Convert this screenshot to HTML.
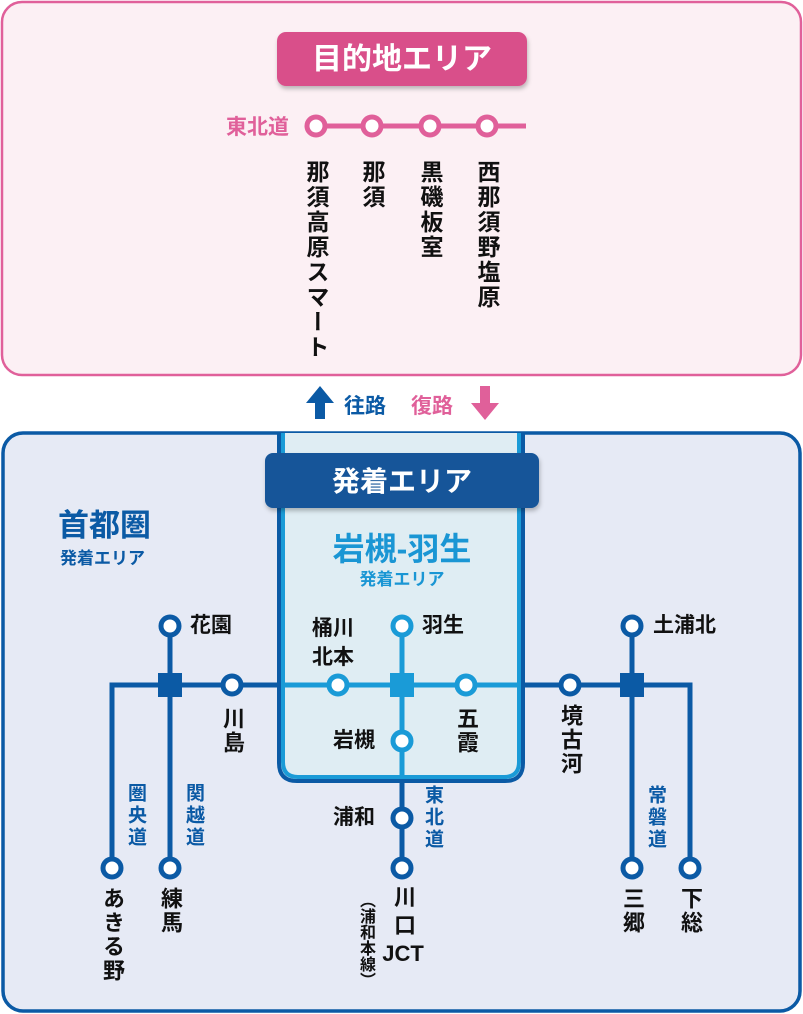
<!DOCTYPE html>
<html><head><meta charset="utf-8"><style>
body{margin:0;width:803px;height:1014px;background:#fff;position:relative;overflow:hidden;font-family:"Liberation Sans","Noto Sans CJK JP",sans-serif;}
svg{position:absolute;left:0;top:0}
.v{position:absolute;writing-mode:vertical-rl;font-weight:bold;font-size:22px;line-height:24px;width:24px;color:#111;letter-spacing:2px;white-space:nowrap}
.t{font-size:23px;letter-spacing:2px}
.h{position:absolute;font-weight:bold;font-size:21px;color:#111;white-space:nowrap;line-height:24px}
.r{color:#0b5aa5;font-size:19px;line-height:22px;width:22px;letter-spacing:3px}
</style></head><body>
<svg width="803" height="1014" viewBox="0 0 803 1014">
<defs><filter id="sh" x="-10%" y="-20%" width="120%" height="150%"><feDropShadow dx="1" dy="3" stdDeviation="2" flood-opacity="0.25"/></filter></defs>
<rect x="2" y="2" width="799" height="373" rx="20" fill="#fcf0f4" stroke="#e0609a" stroke-width="2.5"/>
<rect x="277" y="32" width="250" height="54" rx="9" fill="#d9508a" filter="url(#sh)"/>
<text x="402" y="69" text-anchor="middle" fill="#fff" font-size="30" font-weight="bold" font-family="Liberation Sans,Noto Sans CJK JP,sans-serif">目的地エリア</text>
<text x="289" y="134" text-anchor="end" fill="#e0609a" font-size="21" font-weight="bold" font-family="Liberation Sans,Noto Sans CJK JP,sans-serif">東北道</text>
<line x1="316" y1="126" x2="526" y2="126" stroke="#e0609a" stroke-width="5"/>
<g fill="#fff" stroke="#e0609a" stroke-width="5"><circle cx="316" cy="126" r="9"/><circle cx="372" cy="126" r="9"/><circle cx="430" cy="126" r="9"/><circle cx="487" cy="126" r="9"/></g>
<polygon points="320,386 306,403 315,403 315,419 325,419 325,403 334,403" fill="#0b5aa5"/>
<text x="344" y="413" fill="#0b5aa5" font-size="21" font-weight="bold" font-family="Liberation Sans,Noto Sans CJK JP,sans-serif">往路</text>
<text x="411" y="413" fill="#e0609a" font-size="21" font-weight="bold" font-family="Liberation Sans,Noto Sans CJK JP,sans-serif">復路</text>
<polygon points="485,420 471,403 480,403 480,386 490,386 490,403 499,403" fill="#e0609a"/>
<rect x="3" y="433" width="797" height="578" rx="20" fill="#e6eaf5" stroke="#0b5aa5" stroke-width="3.5"/>
<path d="M279,433 V763 Q279,781 297,781 H505 Q523,781 523,763 V433" fill="#dfedf3" stroke="#0b5aa5" stroke-width="4"/>
<path d="M283,433 V762 Q283,777 298,777 H504 Q519,777 519,762 V433" fill="none" stroke="#1a9bd7" stroke-width="4"/>
<rect x="265" y="453" width="274" height="55" rx="8" fill="#135599" filter="url(#sh)"/>
<text x="402" y="491" text-anchor="middle" fill="#fff" font-size="28" font-weight="bold" font-family="Liberation Sans,Noto Sans CJK JP,sans-serif">発着エリア</text>
<text x="402" y="560" text-anchor="middle" fill="#1a96d4" font-size="32" font-weight="bold" font-family="Liberation Sans,Noto Sans CJK JP,sans-serif">岩槻-羽生</text>
<text x="402" y="585" text-anchor="middle" fill="#1a96d4" font-size="17" font-weight="bold" font-family="Liberation Sans,Noto Sans CJK JP,sans-serif">発着エリア</text>
<text x="58" y="536" fill="#0b5aa5" font-size="31" font-weight="bold" font-family="Liberation Sans,Noto Sans CJK JP,sans-serif">首都圏</text>
<text x="60" y="564" fill="#0b5aa5" font-size="17" font-weight="bold" font-family="Liberation Sans,Noto Sans CJK JP,sans-serif">発着エリア</text>
<g fill="none" stroke="#0b5aa5" stroke-width="5">
<path d="M112,868 V685 H279"/>
<path d="M170,626 V868"/>
<path d="M523,685 H690 V868"/>
<path d="M632,626 V868"/>
<path d="M402,781 V868"/>
</g>
<g fill="none" stroke="#1a9bd7" stroke-width="5">
<path d="M281,685 H521"/>
<path d="M402,626 V779"/>
</g>
<rect x="158" y="673" width="24" height="24" fill="#0b5aa5"/>
<rect x="620" y="673" width="24" height="24" fill="#0b5aa5"/>
<rect x="390" y="673" width="24" height="24" fill="#1a9bd7"/>
<g fill="#fff" stroke="#0b5aa5" stroke-width="5">
<circle cx="170" cy="626" r="9"/><circle cx="232" cy="685" r="9"/><circle cx="112" cy="868" r="9"/><circle cx="170" cy="868" r="9"/>
<circle cx="632" cy="626" r="9"/><circle cx="570" cy="685" r="9"/><circle cx="632" cy="868" r="9"/><circle cx="690" cy="868" r="9"/>
<circle cx="402" cy="818" r="9"/><circle cx="402" cy="868" r="9"/>
</g>
<g fill="#fff" stroke="#1a9bd7" stroke-width="5">
<circle cx="402" cy="626" r="9"/><circle cx="338" cy="685" r="9"/><circle cx="466" cy="685" r="9"/><circle cx="402" cy="741" r="9"/>
</g>
</svg>
<div class="v t" style="left:304px;top:160px">那須高原スマート</div>
<div class="v t" style="left:360px;top:160px">那須</div>
<div class="v t" style="left:418px;top:160px">黒磯板室</div>
<div class="v t" style="left:475px;top:160px">西那須野塩原</div>
<div class="h" style="left:190px;top:614px">花園</div>
<div class="h" style="left:653px;top:614px">土浦北</div>
<div class="h" style="left:422px;top:614px">羽生</div>
<div class="h" style="left:312px;top:614px;line-height:29px">桶川<br>北本</div>
<div class="h" style="left:333px;top:729px">岩槻</div>
<div class="h" style="left:333px;top:806px">浦和</div>
<div class="v" style="left:220px;top:707px">川島</div>
<div class="v" style="left:454px;top:707px">五霞</div>
<div class="v" style="left:558px;top:704px">境古河</div>
<div class="v" style="left:620px;top:887px">三郷</div>
<div class="v" style="left:678px;top:887px">下総</div>
<div class="v" style="left:100px;top:887px">あきる野</div>
<div class="v" style="left:158px;top:887px">練馬</div>
<div class="h" style="left:385px;top:884px;text-align:center;line-height:28px;width:40px;font-size:22px">川<br>口<br><span style="margin-left:-4px">JCT</span></div>
<div class="v" style="left:356px;top:892px;font-size:16px;width:18px;line-height:18px;letter-spacing:0">（浦和本線）</div>
<div class="v r" style="left:124px;top:783px">圏央道</div>
<div class="v r" style="left:182px;top:783px">関越道</div>
<div class="v r" style="left:421px;top:785px">東北道</div>
<div class="v r" style="left:644px;top:785px">常磐道</div>
</body></html>
